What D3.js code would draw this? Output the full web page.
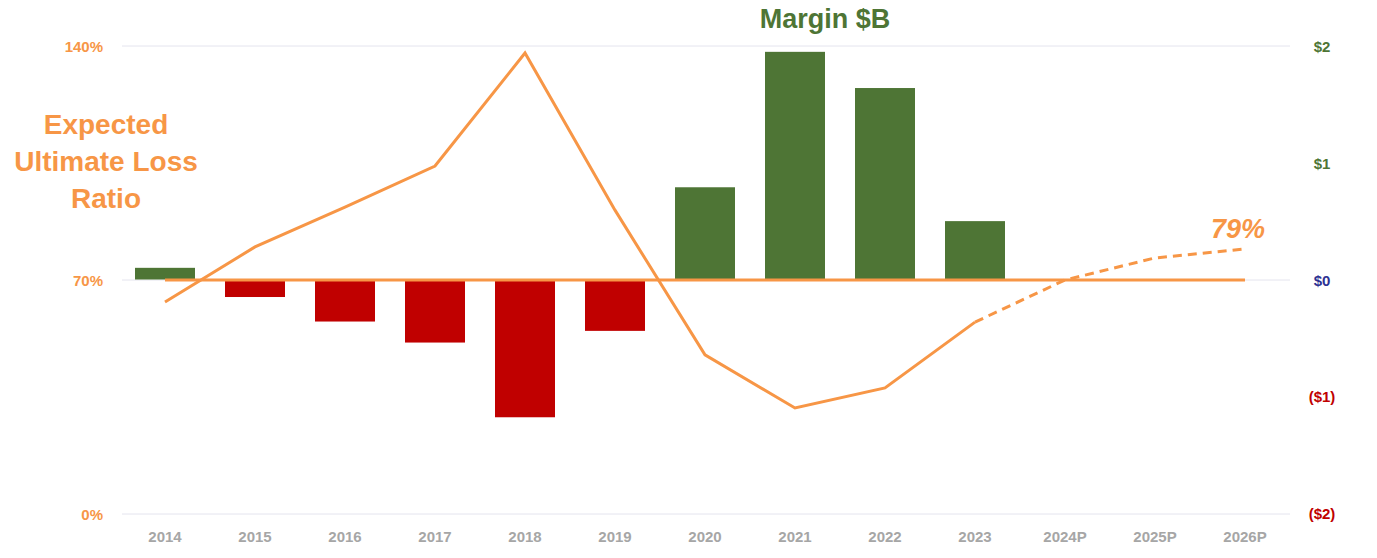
<!DOCTYPE html>
<html><head><meta charset="utf-8">
<script src="https://cdn.jsdelivr.net/npm/d3@7"></script>
<style>body{margin:0;background:#fff;font-family:Arial,"Liberation Sans",sans-serif}</style>
</head><body><div id="chart"></div>
<script>
let years = ["2014","2015","2016","2017","2018","2019","2020","2021","2022","2023","2024P","2025P","2026P"];
let margin$ = [0.10,-0.15,-0.36,-0.54,-1.18,-0.44,0.79,1.95,1.64,0.50];
let lossActual = [63.4,79.9,91.8,104.1,137.9,90.9,47.6,31.7,37.7,57.4];
let lossProj = [57.4,70.0,76.6,79.3];
let leftTicks = [0,70,140];
let rightTicks = [-2,-1,0,1,2];

let svgWidth = 1377, svgHeight = 558;
let orange = "#f79646", green = "#4e7535", red = "#c00000";

let svg = d3.select("#chart").append("svg").attr("width", svgWidth).attr("height", svgHeight);

let x = d3.scalePoint().domain(years).range([165, 1245]);
let yL = d3.scaleLinear().domain([0, 140]).range([514, 46]);
let yR = d3.scaleLinear().domain([-2, 2]).range([513, 46]);

// gridlines
svg.selectAll(".grid").data(leftTicks).enter().append("line")
  .attr("x1", 122).attr("x2", 1290)
  .attr("y1", d => yL(d)).attr("y2", d => yL(d))
  .attr("stroke", "#e4e4ee").attr("stroke-width", 1);

// bars
svg.selectAll(".bar").data(margin$).enter().append("rect")
  .attr("x", (d, i) => x(years[i]) - 30).attr("width", 60)
  .attr("y", d => yR(Math.max(0, d)))
  .attr("height", d => Math.abs(yR(d) - yR(0)))
  .attr("fill", d => d >= 0 ? green : red);

// 70% reference line
svg.append("line").attr("x1", x(years[0])).attr("x2", x(years[12]))
  .attr("y1", yL(70)).attr("y2", yL(70))
  .attr("stroke", orange).attr("stroke-width", 3);

let line = d3.line().x(d => x(d[0])).y(d => yL(d[1]));
svg.append("path").datum(lossActual.map((v, i) => [years[i], v]))
  .attr("d", line).attr("fill", "none").attr("stroke", orange).attr("stroke-width", 3);
svg.append("path").datum(lossProj.map((v, i) => [years[i + 9], v]))
  .attr("d", line).attr("fill", "none").attr("stroke", orange).attr("stroke-width", 3)
  .attr("stroke-dasharray", "9,6");

// left ticks
svg.selectAll(".lt").data(leftTicks).enter().append("text")
  .attr("x", 103).attr("y", d => yL(d) + 6).attr("text-anchor", "end")
  .attr("font-size", 15).attr("font-weight", "bold").attr("fill", orange)
  .text(d => d + "%");

// right ticks
let rColor = d => d > 0 ? green : d < 0 ? red : "#2e3192";
let rFmt = d => d < 0 ? "($" + (-d) + ")" : "$" + d;
svg.selectAll(".rt").data(rightTicks).enter().append("text")
  .attr("x", 1322).attr("y", d => yR(d) + 6).attr("text-anchor", "middle")
  .attr("font-size", 15).attr("font-weight", "bold").attr("fill", rColor)
  .text(rFmt);

// x labels
svg.selectAll(".xl").data(years).enter().append("text")
  .attr("x", d => x(d)).attr("y", 542).attr("text-anchor", "middle")
  .attr("font-size", 15).attr("font-weight", "bold").attr("fill", "#a6a6a6")
  .text(d => d);

// titles
svg.append("text").attr("x", 825).attr("y", 28).attr("text-anchor", "middle")
  .attr("font-size", 27).attr("font-weight", "bold").attr("fill", green).text("Margin $B");
["Expected", "Ultimate Loss", "Ratio"].forEach((t, i) => {
  svg.append("text").attr("x", 106).attr("y", 134 + i * 37).attr("text-anchor", "middle")
    .attr("font-size", 28).attr("font-weight", "bold").attr("fill", orange).text(t);
});
svg.append("text").attr("x", 1238).attr("y", 238).attr("text-anchor", "middle")
  .attr("font-size", 27).attr("font-weight", "bold").attr("font-style", "italic")
  .attr("fill", orange).text("79%");
</script></body></html>
